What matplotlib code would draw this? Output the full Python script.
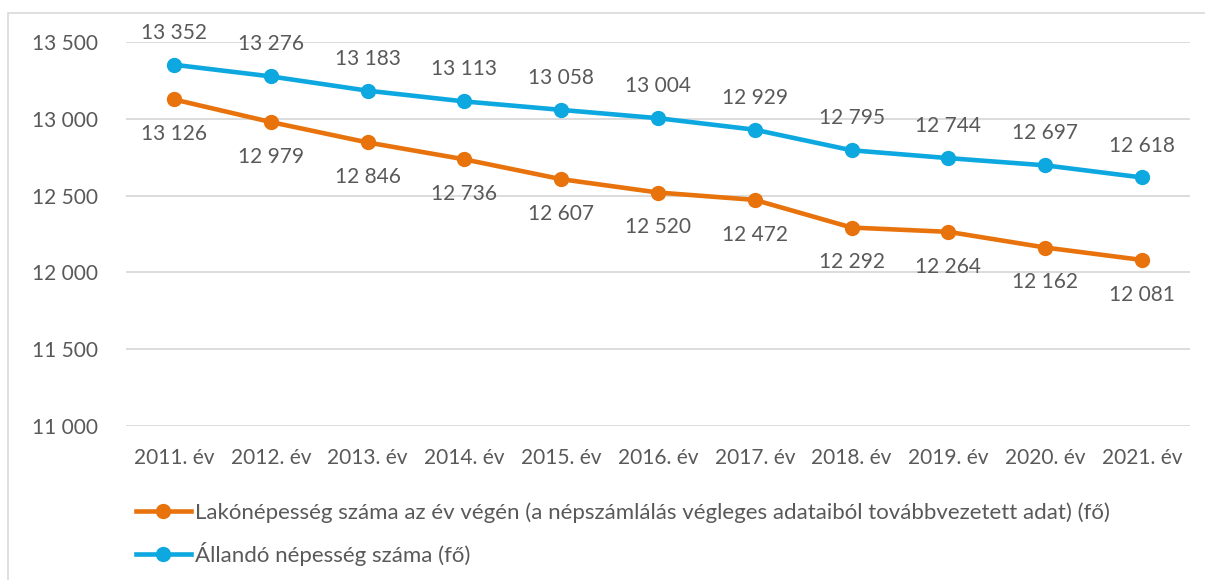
import matplotlib.pyplot as plt
from matplotlib.patches import Rectangle
from matplotlib.ticker import FuncFormatter

plt.rcParams['font.family'] = ['Lato', 'DejaVu Sans']

years = ["2011. év", "2012. év", "2013. év", "2014. év", "2015. év", "2016. év",
         "2017. év", "2018. év", "2019. év", "2020. év", "2021. év"]
lakonepesseg = [13126, 12979, 12846, 12736, 12607, 12520, 12472, 12292, 12264, 12162, 12081]
allando = [13352, 13276, 13183, 13113, 13058, 13004, 12929, 12795, 12744, 12697, 12618]

label_lako = "Lakónépesség száma az év végén (a népszámlálás végleges adataiból továbbvezetett adat) (fő)"
label_allando = "Állandó népesség száma (fő)"

c_orange = "#E8730C"
c_blue = "#0CA8DF"
c_text = "#595959"

def fmt(v, pos=None):
    return f"{int(v):,}".replace(",", " ")

fig = plt.figure(figsize=(12.05, 5.8), dpi=100)
ax = fig.add_axes([0.1042, 0.2655, 0.8837, 0.6621])

x = range(len(years))
ax.plot(x, lakonepesseg, color=c_orange, lw=3.3, marker="o", ms=10, label=label_lako)
ax.plot(x, allando, color=c_blue, lw=3.3, marker="o", ms=10, label=label_allando)

for i, v in enumerate(lakonepesseg):
    ax.annotate(fmt(v), (i, v), xytext=(0, -25), textcoords="offset points",
                ha="center", va="center", fontsize=15, color=c_text)
for i, v in enumerate(allando):
    ax.annotate(fmt(v), (i, v), xytext=(0, 23), textcoords="offset points",
                ha="center", va="center", fontsize=15, color=c_text)

ax.set_xlim(-0.5, len(years) - 0.5)
ax.set_ylim(11000, 13500)
ax.set_yticks([11000, 11500, 12000, 12500, 13000, 13500])
ax.yaxis.set_major_formatter(FuncFormatter(fmt))
ax.set_xticks(list(x))
ax.set_xticklabels(years)
ax.tick_params(axis="both", length=0, labelsize=15, colors=c_text)
ax.tick_params(axis="y", pad=20)
ax.tick_params(axis="x", pad=16)
ax.grid(axis="y", color="#D9D9D9", lw=1.3)
ax.set_axisbelow(True)
for s in ax.spines.values():
    s.set_visible(False)

fig.legend(loc="upper left", bbox_to_anchor=(0.096, 0.169), frameon=False,
           fontsize=16, handlelength=2.5, handletextpad=0.15, labelspacing=0.88,
           labelcolor=c_text, bbox_transform=fig.transFigure)

fig.patches.append(Rectangle((8 / 1205, -0.1), 1.2, 1 - 13 / 580 + 0.1,
                             transform=fig.transFigure, fill=False,
                             edgecolor="#D9D9D9", lw=1.2))

fig.savefig("out.png", dpi=100)
